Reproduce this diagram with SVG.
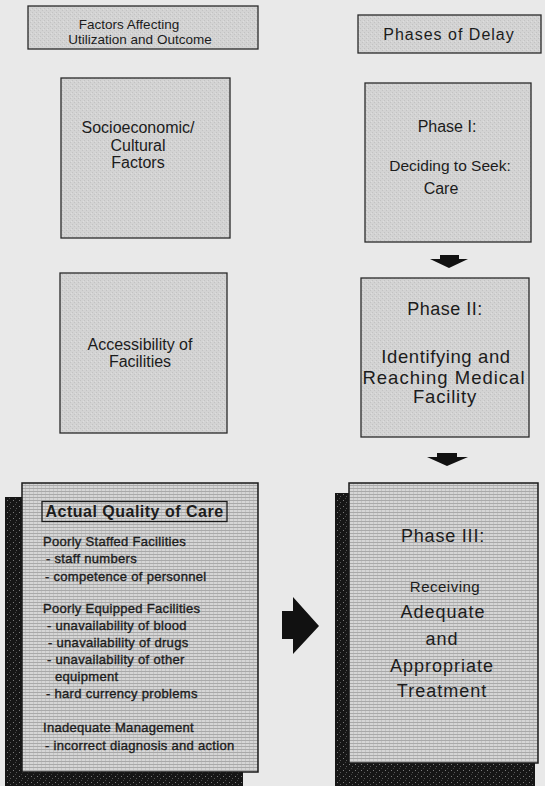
<svg xmlns="http://www.w3.org/2000/svg" width="545" height="786" viewBox="0 0 545 786">
<style>
.bg{fill:#e9e9e9}
.box{fill:url(#dither);stroke:#2a2a2a;stroke-width:1.3}
.lbox{fill:url(#lines);stroke:#1a1a1a;stroke-width:1.5}
.shadow{fill:url(#speck)}
.t{font-family:"Liberation Sans",Arial,sans-serif;fill:#1c1c1c;text-anchor:middle}
.l{font-family:"Liberation Sans",Arial,sans-serif;fill:#1c1c1c;font-size:13px;letter-spacing:0.3px;stroke:#1c1c1c;stroke-width:0.35px}
.arrow{fill:#111}
</style>
<defs>
<pattern id="dither" width="4" height="4" patternUnits="userSpaceOnUse">
<rect width="4" height="4" fill="#d3d3d3"/>
<rect x="0" y="0" width="1" height="1" fill="#c2c2c2"/>
<rect x="2" y="2" width="1" height="1" fill="#c2c2c2"/>
<rect x="3" y="1" width="1" height="1" fill="#dedede"/>
</pattern>
<pattern id="lines" width="4" height="3" patternUnits="userSpaceOnUse">
<rect width="4" height="3" fill="#d6d6d6"/>
<rect y="2" width="4" height="1" fill="#a9a9a9"/>
<rect x="1" y="0" width="1" height="2" fill="#c4c4c4"/>
</pattern>
<pattern id="speck" width="6" height="6" patternUnits="userSpaceOnUse">
<rect width="6" height="6" fill="#161616"/>
<rect x="1" y="2" width="1" height="1" fill="#7a7a7a"/>
<rect x="4" y="4" width="1" height="1" fill="#5a5a5a"/>
<rect x="3" y="0" width="1" height="1" fill="#444"/>
</pattern>
</defs>
<rect class="bg" width="545" height="786"/>

<g id="header-factors">
<rect class="box" x="28" y="6" width="230" height="43"/>
<text class="t" x="129" y="29" font-size="13.5">Factors Affecting</text>
<text class="t" x="140" y="43.5" font-size="13.5">Utilization and Outcome</text>
</g>

<g id="header-phases">
<rect class="box" x="358" y="15" width="183" height="38"/>
<text class="t" x="449" y="40" font-size="16" letter-spacing="1">Phases of Delay</text>
</g>

<g id="socioeconomic">
<rect class="box" x="61" y="78" width="169" height="160"/>
<text class="t" x="138" y="133" font-size="16">Socioeconomic/</text>
<text class="t" x="138" y="151" font-size="16">Cultural</text>
<text class="t" x="138" y="168" font-size="16">Factors</text>
</g>

<g id="accessibility">
<rect class="box" x="60" y="273" width="167" height="160"/>
<text class="t" x="140" y="350" font-size="16">Accessibility of</text>
<text class="t" x="140" y="367" font-size="16">Facilities</text>
</g>

<g id="phase1">
<rect class="box" x="365" y="83" width="166" height="159"/>
<text class="t" x="447" y="131.5" font-size="16">Phase I:</text>
<text class="t" x="450" y="170.5" font-size="15.5">Deciding to Seek:</text>
<text class="t" x="441" y="194" font-size="16">Care</text>
</g>

<g id="phase2">
<rect class="box" x="361" y="278" width="168" height="159"/>
<text class="t" x="445" y="315" font-size="18" letter-spacing="0.5">Phase II:</text>
<text class="t" x="446" y="363" font-size="18.5" letter-spacing="0.6">Identifying and</text>
<text class="t" x="444" y="384" font-size="18.5" letter-spacing="1">Reaching Medical</text>
<text class="t" x="445" y="403" font-size="18.5" letter-spacing="0.8">Facility</text>
</g>

<g id="quality-of-care">
<rect class="shadow" x="5" y="497" width="238" height="289"/>
<rect class="lbox" x="22" y="483" width="236" height="289"/>
<rect x="42" y="501.5" width="185" height="20" fill="none" stroke="#1a1a1a" stroke-width="1.3"/>
<text class="t" x="134.5" y="517" font-size="16" font-weight="bold" letter-spacing="0.5">Actual Quality of Care</text>
<text class="l" x="43" y="546">Poorly Staffed Facilities</text>
<text class="l" x="46" y="563">- staff numbers</text>
<text class="l" x="45" y="581">- competence of personnel</text>
<text class="l" x="43" y="613">Poorly Equipped Facilities</text>
<text class="l" x="47" y="630">- unavailability of blood</text>
<text class="l" x="48" y="647">- unavailability of drugs</text>
<text class="l" x="47" y="664">- unavailability of other</text>
<text class="l" x="55" y="681">equipment</text>
<text class="l" x="46" y="698">- hard currency problems</text>
<text class="l" x="43" y="732">Inadequate Management</text>
<text class="l" x="45" y="750">- incorrect diagnosis and action</text>
</g>

<g id="phase3">
<rect class="shadow" x="335" y="493" width="200" height="293"/>
<rect class="lbox" x="349" y="483" width="189" height="280"/>
<text class="t" x="443" y="542" font-size="18" letter-spacing="0.8">Phase III:</text>
<text class="t" x="445" y="592" font-size="15" letter-spacing="0.5">Receiving</text>
<text class="t" x="443" y="618" font-size="18" letter-spacing="1">Adequate</text>
<text class="t" x="442" y="645" font-size="18" letter-spacing="1">and</text>
<text class="t" x="442" y="672" font-size="18" letter-spacing="1">Appropriate</text>
<text class="t" x="442" y="697" font-size="18" letter-spacing="1">Treatment</text>
</g>

<g id="connectors">
<polygon class="arrow" points="440,255 459,255 459,259 468,259 449,268 430,259 440,259"/>
<polygon class="arrow" points="437,453 457,453 457,457 468,457 447,466 427,457 437,457"/>
<polygon class="arrow" points="282,611 293,611 293,597 319,626 293,654 293,639 282,639"/>
</g>
</svg>
